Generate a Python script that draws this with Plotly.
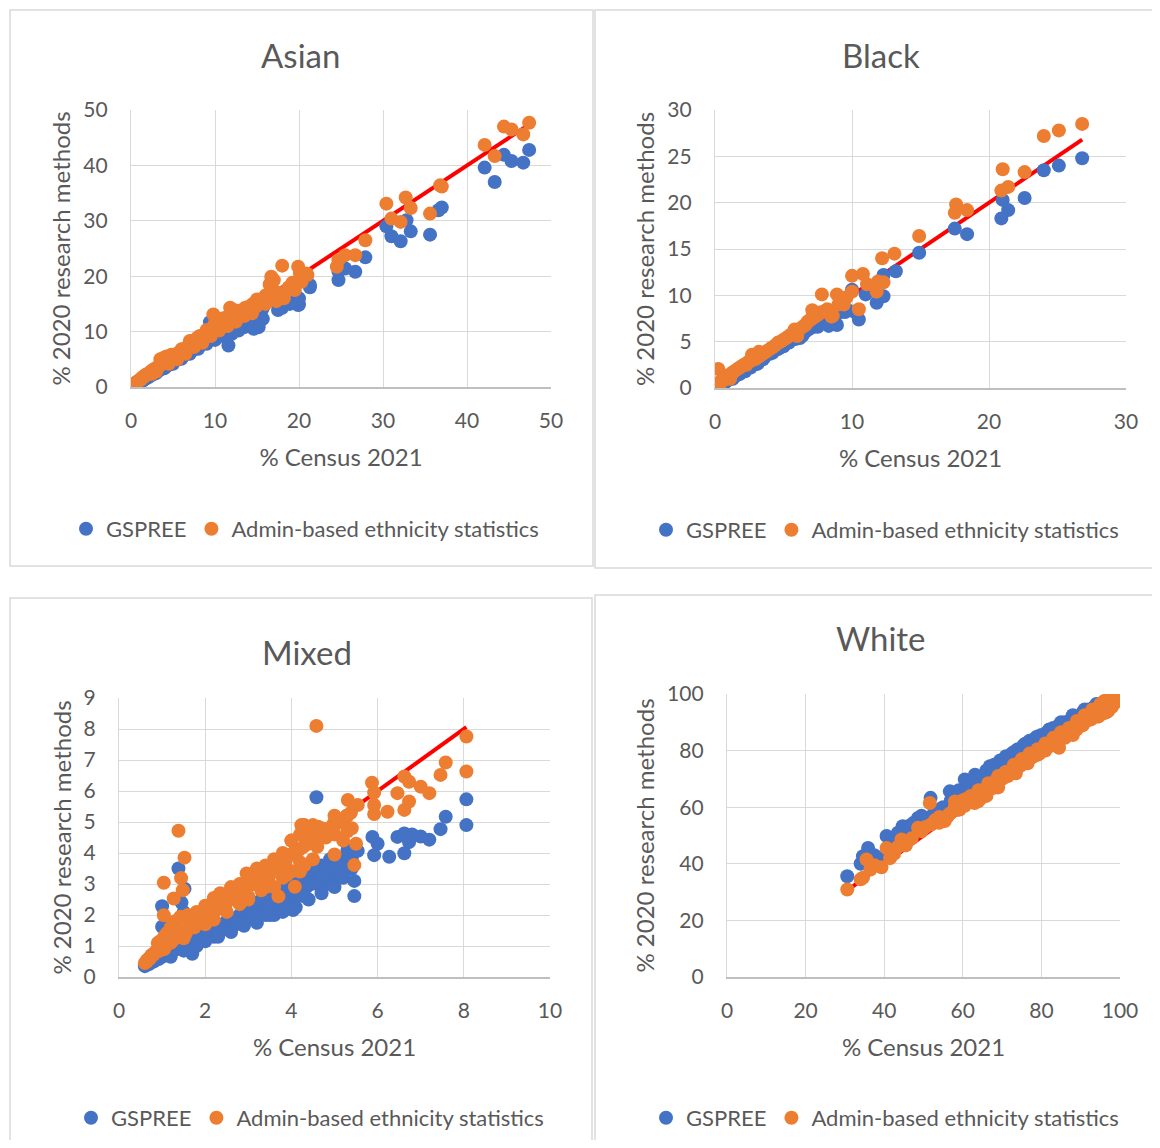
import plotly.graph_objects as go

# page body has an 8px margin, so the figure is sized to fit the window without scrollbars
OFF = 8
W, H = 1144, 1132
FONT = "Lato"
TXT = "#595959"
BLUE = "#4472C4"
ORANGE = "#ED7D31"
RED = "#FF0000"
GRID = "#D9D9D9"

# ---------------- Asian ----------------
asian_gspree_x = [0.4,0.5,0.6,0.7,0.8,0.9,1.0,1.1,1.2,1.4,1.5,1.7,1.9,2.0,2.2,2.4,2.6,2.8,3.0,3.2,3.5,3.7,4.0,4.3,4.6,4.9,5.2,5.5,5.9,6.2,6.6,7.0,7.4,7.8,8.3,8.7,9.1,9.6,10.1,10.6,11.2,11.8,12.5,13.1,13.8,14.5,15.2,15.8,
                  0.3,0.6,0.9,1.3,1.6,2.1,2.5,2.9,3.3,3.9,4.4,5.0,5.6,6.1,6.8,7.6,8.1,8.9,9.4,9.9,10.4,11.0,12.2,13.0,14.0,15.0,15.6,
                  3.0,4.0,5.0,6.0,7.0,8.0,9.0,10.0,11.0,12.0,12.8,13.5,14.2,15.0,15.7,
                  16.8,17.5,18.0,19.0,20.0,21.3,16.5,
                  47.4,44.4,45.3,46.7,42.1,43.3,37.0,36.6,35.6,30.4,31.0,32.1,33.3,32.8,27.9,26.7,24.7,24.7,25.5,21.3,19.9,17.5,19.1,16.4,15.2,14.6,11.6,9.4,17.8,18.5,20.0,16.9,18.9]
asian_gspree_y = [0.4,0.5,0.5,0.6,0.7,0.8,0.9,1.0,1.1,1.2,1.3,1.5,1.7,1.8,2.0,2.2,2.3,2.5,2.7,2.9,3.2,3.4,3.6,3.9,4.1,4.4,4.7,5.0,5.3,5.6,6.0,6.3,6.7,7.1,7.6,8.0,8.3,8.9,9.3,9.8,10.2,10.8,11.4,12.0,12.7,13.3,14.0,14.6,
                  0.3,0.6,0.8,1.1,1.4,1.8,2.2,2.6,3.0,3.4,3.9,4.4,5.0,5.5,6.1,6.9,7.4,8.1,8.6,9.0,9.4,9.9,11.0,11.6,12.4,12.9,14.0,
                  2.5,3.4,4.2,5.1,6.0,6.9,7.8,8.5,9.2,9.6,10.2,10.8,11.3,11.5,12.3,
                  16.5,15.0,14.3,15.5,14.9,18.0,15.8,
                  42.8,41.9,40.8,40.5,39.6,37.0,32.4,31.9,27.5,29.0,27.2,26.3,28.1,30.1,23.4,20.8,19.3,20.8,21.4,18.4,14.8,13.9,16.3,16.3,10.8,10.5,7.5,11.7,15.5,17.0,16.0,17.5,15.0]
asian_admin_x = [0.4,0.5,0.6,0.7,0.8,0.9,1.0,1.2,1.3,1.5,1.6,1.8,2.0,2.2,2.4,2.6,2.9,3.1,3.4,3.6,3.8,4.1,4.4,4.7,5.0,5.3,5.7,6.0,6.4,6.8,7.1,7.5,7.9,8.4,8.8,9.2,9.7,10.2,10.8,11.3,12.0,12.6,13.3,14.0,14.7,15.4,
                 0.3,0.7,1.1,1.4,1.9,2.3,2.7,3.2,3.5,4.0,4.5,5.1,5.5,6.2,6.9,7.2,7.7,8.2,9.0,9.5,10.0,10.5,11.0,11.6,12.3,13.0,13.8,14.5,15.0,15.8,16.0,
                 3.5,4.2,4.8,5.5,6.0,7.0,8.0,9.0,10.0,11.0,12.0,12.5,13.5,14.5,15.5,16.0,9.5,10.5,11.5,12.5,13.5,8.5,7.5,6.5,5.5,4.5,3.0,2.5,
                 16.5,17.0,17.5,18.2,18.8,19.5,20.3,21.0,17.0,
                 47.4,44.4,45.3,46.7,42.1,43.3,36.8,37.0,30.4,32.7,33.3,35.6,31.0,32.1,27.9,24.7,25.5,26.7,24.5,18.0,19.9,20.9,16.7,16.7,17.8,18.4,19.2,20.1,17.3,9.8,11.8,14.9,14.4]
asian_admin_y = [0.5,0.6,0.8,0.8,1.0,1.1,1.2,1.4,1.6,1.8,2.0,2.2,2.3,2.5,2.8,3.0,3.2,3.5,3.8,4.2,5.2,4.6,5.5,5.0,5.4,5.8,6.0,6.4,6.7,7.3,7.9,7.8,8.3,8.7,9.2,9.6,10.0,10.6,11.0,11.8,12.3,12.8,13.6,14.2,14.8,15.4,
                 0.4,0.9,1.3,1.8,2.3,2.7,3.2,3.6,4.4,4.8,5.3,5.8,6.0,6.8,7.6,8.2,8.6,9.2,9.9,10.5,11.2,11.8,12.0,12.8,13.0,13.6,14.4,15.0,15.8,16.0,16.5,
                 5.0,5.5,5.8,5.9,6.8,8.3,9.0,10.3,11.5,12.4,13.2,13.8,14.2,14.9,15.2,15.0,9.2,10.2,11.0,11.8,12.8,8.0,7.2,6.0,5.0,4.2,2.8,2.4,
                 18.5,19.3,17.0,16.0,18.0,17.5,19.0,20.2,16.8,
                 47.7,47.0,46.5,45.6,43.7,41.7,36.4,36.2,33.1,34.2,32.3,31.3,30.4,29.8,26.5,22.9,23.8,23.8,21.7,21.9,21.7,20.5,19.9,18.4,16.5,17.2,18.8,20.6,15.5,13.1,14.3,14.5,13.3]

# ---------------- Black ----------------
black_gspree_x = [0.1,0.2,0.3,0.4,0.5,0.6,0.8,1.0,1.2,1.4,1.6,1.9,2.1,2.4,2.7,3.0,3.3,3.6,4.0,4.4,4.8,5.2,5.6,6.0,6.3,6.6,7.0,7.3,7.6,8.0,8.3,
                  0.15,0.35,0.7,0.9,1.3,1.8,2.2,2.6,3.1,3.5,4.2,4.6,5.0,5.4,5.9,6.4,6.8,7.2,7.8,
                  6.2,7.5,8.0,9.2,9.6,10.2,
                  26.8,25.1,24.0,22.6,21.0,21.4,20.9,17.5,18.4,14.9,13.2,12.3,11.8,12.3,11.0,10.0,10.5,8.9,8.3,7.1,9.5,8.8]
black_gspree_y = [0.1,0.2,0.3,0.3,0.4,0.5,0.7,0.9,1.1,1.2,1.4,1.7,1.9,2.2,2.4,2.7,3.0,3.3,3.7,4.1,4.4,4.8,5.2,5.5,5.8,6.1,6.5,6.8,7.0,7.4,7.6,
                  0.1,0.3,0.6,0.8,1.0,1.5,1.8,2.2,2.6,3.1,3.8,4.2,4.5,4.9,5.3,5.7,6.3,6.6,7.1,
                  5.4,6.6,7.1,8.2,8.5,8.2,
                  24.8,24.0,23.5,20.5,20.3,19.2,18.3,17.2,16.6,14.6,12.6,12.2,9.2,9.9,10.1,10.6,7.4,6.8,6.7,7.6,8.2,7.0]
black_admin_x = [0.1,0.2,0.24,0.3,0.5,0.6,0.8,1.0,1.2,1.5,1.7,2.0,2.3,2.6,2.7,3.0,3.4,3.8,4.2,4.6,5.0,5.4,5.8,6.2,6.6,7.0,7.4,7.8,
                 0.15,0.4,0.7,0.9,1.1,1.3,1.8,2.2,2.5,2.9,3.2,3.6,4.0,4.4,4.8,5.2,5.6,6.0,6.4,6.8,7.2,7.6,
                 5.8,6.0,6.7,7.3,8.2,8.6,9.0,9.6,3.2,2.8,
                 26.8,25.1,24.0,22.6,21.0,21.4,20.9,17.6,17.5,18.4,14.9,13.1,12.2,11.9,12.3,11.8,10.0,10.8,11.1,10.0,10.5,7.8,8.9,7.1,8.5,9.4]
black_admin_y = [0.2,0.4,2.05,0.6,0.8,1.0,1.1,1.4,1.5,1.9,2.1,2.4,2.5,2.9,3.6,3.2,3.6,4.0,4.4,4.9,5.2,5.6,6.0,6.4,6.8,7.4,7.8,8.2,
                 0.1,0.5,0.9,1.2,1.0,1.7,2.2,2.6,2.9,3.1,3.4,3.8,4.2,4.6,5.0,5.4,5.8,6.2,6.6,7.2,7.6,8.0,
                 6.3,5.6,7.0,8.0,8.5,7.8,9.0,9.8,3.9,3.3,
                 28.5,27.8,27.2,23.3,23.6,21.7,21.3,19.8,18.9,19.2,16.4,14.5,14.0,11.5,11.4,10.4,12.1,12.3,11.2,10.4,8.5,10.1,10.1,8.4,7.7,9.0]

# ---------------- Mixed ----------------
mixed_gspree_x = [0.6,0.65,0.7,0.75,0.8,0.85,0.9,0.95,1.0,1.05,1.1,1.15,1.2,1.25,1.3,1.35,1.4,1.5,1.55,1.6,1.7,1.75,1.8,1.9,2.0,2.1,2.2,2.3,2.4,2.5,2.6,2.7,2.8,2.9,3.0,3.1,3.2,3.3,3.4,3.5,3.6,3.7,3.8,3.9,4.0,4.1,4.2,4.3,4.4,4.5,4.6,4.7,4.8,4.9,5.0,5.1,5.2,5.3,5.4,
                  0.62,0.7,0.78,0.85,0.92,1.0,1.08,1.15,1.22,1.3,1.38,1.45,1.55,1.65,1.72,1.85,1.95,2.05,2.15,2.25,2.35,2.45,2.55,2.65,2.75,2.85,2.95,3.05,3.15,3.25,3.35,3.45,3.55,3.65,3.75,3.85,3.95,4.05,4.15,4.25,4.35,4.45,4.55,4.65,4.75,4.85,4.95,5.05,5.15,5.25,
                  2.0,2.3,2.6,2.9,3.2,3.5,3.8,4.1,4.4,4.7,5.0,1.5,1.8,1.2,3.6,4.3,4.6,5.2,5.4,4.7,4.9,5.1,5.3,4.6,5.0,5.2,4.8,
                  1.0,1.0,1.38,1.52,1.45,1.5,1.2,4.58,5.46,5.46,5.54,5.88,5.92,6.0,6.27,6.46,6.62,6.62,6.73,6.8,7.0,7.2,7.46,7.58,8.06,8.06,4.04,3.8,3.4]
mixed_gspree_y = [0.35,0.4,0.45,0.5,0.5,0.6,0.6,0.7,0.7,0.75,0.8,0.85,0.9,0.9,1.0,0.95,1.05,1.1,1.15,1.2,0.75,1.3,1.35,1.4,1.5,1.5,1.3,1.7,1.6,1.8,1.9,1.7,2.0,2.1,2.2,2.0,2.3,2.5,2.2,2.6,2.4,2.8,2.6,2.9,3.1,2.6,2.9,3.2,3.0,3.4,3.3,3.6,3.0,3.5,3.2,3.7,3.4,4.1,3.8,
                  0.38,0.42,0.5,0.55,0.58,0.65,0.7,0.78,0.82,0.88,0.95,1.0,1.02,1.1,1.15,1.2,1.28,1.3,1.4,1.45,1.5,1.55,1.62,1.65,1.75,1.8,1.85,1.9,2.0,2.05,2.1,2.25,2.3,2.35,2.45,2.5,2.55,2.7,2.75,2.85,2.9,3.0,3.1,3.15,3.3,3.35,3.4,3.5,3.6,3.7,
                  1.15,1.3,1.45,1.65,1.75,2.0,2.15,2.25,2.5,2.7,2.9,0.85,1.0,0.65,2.0,2.6,3.0,3.3,3.5,3.3,3.8,3.5,3.9,3.6,3.7,3.2,3.5,
                  2.28,1.62,3.5,2.85,2.4,2.1,1.6,5.8,3.1,2.61,4.07,4.52,3.93,4.3,3.88,4.52,3.99,4.63,4.35,4.6,4.53,4.43,4.77,5.17,5.73,4.9,2.16,2.1,2.0]
mixed_admin_x = [0.6,0.65,0.7,0.75,0.8,0.85,0.9,0.95,1.0,1.05,1.1,1.15,1.2,1.25,1.3,1.35,1.4,1.5,1.55,1.6,1.7,1.75,1.8,1.9,2.0,2.05,2.1,2.2,2.3,2.35,2.4,2.5,2.6,2.7,2.8,2.9,3.0,3.1,3.2,3.3,3.4,3.5,3.6,3.7,3.8,3.9,4.0,4.1,4.2,4.3,4.4,4.5,4.6,4.7,4.8,4.9,5.0,5.1,5.2,5.3,5.4,
                 0.65,0.72,0.8,0.88,0.96,1.02,1.1,1.18,1.26,1.34,1.42,1.5,1.6,1.68,1.78,1.88,1.98,2.08,2.18,2.28,2.38,2.48,2.58,2.68,2.78,2.88,2.98,3.08,3.18,3.28,3.38,3.48,3.58,3.68,3.78,3.88,3.98,4.08,4.18,4.28,4.38,4.48,4.58,4.68,4.78,4.88,4.98,5.08,5.18,5.28,5.38,
                 1.2,1.3,1.6,0.9,1.05,2.2,2.6,3.0,3.5,1.5,2.0,2.5,3.0,3.5,4.0,4.5,2.2,2.8,3.3,3.8,4.3,
                 1.6,1.8,2.0,2.2,2.4,2.6,2.8,3.0,3.2,3.4,3.6,3.8,4.0,4.2,4.4,1.3,1.1,0.95,2.5,2.7,3.4,3.9,4.6,4.8,5.0,5.2,5.3,5.0,4.5,3.0,3.6,4.2,
                 4.58,8.06,8.06,7.58,7.46,6.62,6.73,7.0,7.2,5.87,5.92,6.46,5.92,6.73,6.62,6.23,5.92,5.31,5.54,5.46,5.5,4.23,4.62,4.08,2.96,1.38,1.52,1.44,1.04,1.48,1.27,1.04,1.42,5.0,3.7]
mixed_admin_y = [0.45,0.5,0.6,0.7,0.75,0.8,0.9,0.85,1.0,0.9,1.1,1.2,1.1,1.3,1.25,1.4,1.3,1.5,1.4,1.6,1.7,1.6,1.8,1.9,2.0,1.8,2.2,2.1,2.3,2.7,2.4,2.5,2.6,2.8,2.7,2.9,3.3,3.0,3.2,3.1,3.5,3.3,3.7,3.6,3.9,3.5,4.4,4.1,3.7,4.9,4.3,4.6,4.4,4.8,4.5,4.7,4.9,5.1,5.0,4.7,4.8,
                 0.55,0.6,0.72,0.85,0.95,0.98,1.05,1.15,1.2,1.3,1.35,1.45,1.55,1.6,1.75,1.82,1.9,2.05,2.12,2.2,2.35,2.4,2.55,2.62,2.75,2.85,2.95,3.0,3.1,3.25,3.3,3.45,3.5,3.62,3.75,3.8,3.95,4.05,4.1,4.2,4.35,4.4,4.55,4.6,4.75,4.8,4.95,5.0,5.05,5.2,5.3,
                 1.6,1.8,1.9,1.1,1.3,2.55,2.9,3.2,3.6,1.25,1.7,2.1,2.6,3.0,3.4,3.8,1.85,2.35,2.8,3.2,3.6,
                 2.0,2.1,2.3,2.5,2.6,2.8,3.0,3.3,3.5,3.6,3.8,4.0,4.4,4.6,4.7,1.7,1.4,1.15,2.4,2.5,2.9,3.3,4.2,4.6,4.6,4.4,5.2,5.2,4.9,2.5,2.9,3.4,
                 8.1,7.76,6.63,6.92,6.52,6.47,6.3,6.14,5.93,6.27,5.95,5.93,5.55,5.66,5.39,5.33,5.26,5.71,5.55,3.61,4.3,4.9,4.85,2.91,3.34,4.72,3.85,3.19,3.04,2.8,2.53,1.99,1.94,3.95,2.6]

# ---------------- White ----------------
white_gspree_x = [30.6,34.0,34.6,35.9,37.5,40.6,42.0,44.7,46.5,48.6,50.0,51.8,53.5,55.0,56.7,58.0,60.5,62.0,63.1,65.0,66.9,68.0,69.5,71.0,72.5,74.0,75.5,77.0,78.5,80.0,81.5,83.0,84.5,86.0,87.5,89.0,90.5,92.0,93.5,95.0,96.0,97.0,98.0,98.5,99.0,
                  36.5,39.0,41.5,43.5,45.5,47.5,49.5,52.5,54.5,57.0,59.0,61.5,64.0,66.0,67.5,70.5,73.0,76.0,79.0,82.0,85.0,88.0,91.0,94.0,96.5,97.5,98.8]
white_gspree_y = [35.6,40.0,42.7,45.6,43.0,49.8,49.0,53.3,53.5,56.2,56.0,63.3,58.5,60.0,65.6,64.5,69.8,68.0,71.5,69.5,74.5,75.0,76.5,78.0,79.0,80.5,82.0,83.5,84.5,85.5,86.5,88.0,89.0,90.0,91.0,92.0,93.5,94.5,95.5,96.5,97.0,97.8,98.5,99.0,99.5,
                  38.5,42.0,47.0,51.0,50.5,54.5,57.0,57.5,59.5,62.5,66.0,67.5,70.5,73.0,72.0,77.0,79.5,82.5,85.0,87.5,90.0,92.5,94.5,96.5,97.5,98.2,99.2]
white_admin_x = [30.6,34.0,34.6,35.5,36.5,39.3,40.6,42.5,44.4,45.5,48.6,50.5,51.6,53.0,55.4,57.0,58.0,59.2,60.5,62.0,63.9,65.0,66.0,67.7,68.5,70.0,71.5,73.0,74.5,76.0,77.5,79.0,80.5,82.0,83.0,84.3,85.5,87.0,88.5,90.0,91.5,93.0,94.0,95.0,96.0,97.0,97.5,98.0,98.5,99.0,96.5,92.5,
                 37.5,41.5,43.5,47.0,49.5,52.0,54.0,56.0,58.5,61.0,63.0,64.5,66.5,69.0,70.5,72.0,73.5,75.0,76.5,78.0,79.5,81.0,82.5,84.0,86.0,87.5,89.0,90.5,92.0,93.5,95.5,96.0,97.0,97.8,98.2,98.8,99.2,88.0,84.5,94.5,
                 96.0,97.5,98.5,99.2,95.0,93.0,91.0,89.0,87.0,85.0,83.0,81.0,79.0,77.0,75.0,73.0,71.0,69.0,66.5,64.0,62.0,60.0,58.0,56.5,54.0,97.0,98.0,95.5,93.0,90.5]
white_admin_y = [30.9,34.5,35.1,41.5,38.0,38.8,45.6,43.5,48.6,46.5,52.7,53.0,61.5,55.5,55.1,58.0,62.0,59.2,60.5,64.0,62.1,66.0,64.0,66.8,69.5,70.0,71.0,73.5,74.5,76.0,77.5,78.5,80.0,81.5,82.0,83.9,85.0,86.5,88.0,89.5,90.5,92.0,93.0,94.0,95.0,96.0,96.5,97.0,97.5,98.5,93.5,91.0,
                 39.5,42.0,46.0,49.0,51.5,54.0,54.5,56.5,59.0,63.0,61.5,63.0,66.0,67.0,70.5,72.0,72.0,75.0,75.5,78.0,79.0,80.0,82.5,83.0,84.5,86.5,87.5,89.0,91.0,92.5,93.5,94.5,95.0,96.0,97.5,97.0,98.5,85.5,81.0,92.0,
                 97.5,98.5,99.0,99.0,96.5,94.5,92.5,90.5,88.0,86.5,84.5,82.5,80.5,79.0,77.0,75.0,72.5,71.0,68.5,66.0,63.0,62.5,60.0,57.5,56.5,94.0,95.5,93.0,91.5,89.0]

panel_titles = ["Asian", "Black", "Mixed", "White"]
x_ticks = [[0,10,20,30,40,50],[0,10,20,30],[0,2,4,6,8,10],[0,20,40,60,80,100]]
y_ticks = [[0,10,20,30,40,50],[0,5,10,15,20,25,30],[0,1,2,3,4,5,6,7,8,9],[0,20,40,60,80,100]]
series = [
    (asian_gspree_x, asian_gspree_y, asian_admin_x, asian_admin_y),
    (black_gspree_x, black_gspree_y, black_admin_x, black_admin_y),
    (mixed_gspree_x, mixed_gspree_y, mixed_admin_x, mixed_admin_y),
    (white_gspree_x, white_gspree_y, white_admin_x, white_admin_y),
]

def fx(X):
    return (X - OFF) / W
def fy(Y):
    return 1 - (Y - OFF) / H

# plot-area geometry (screen pixels) for each panel: (left, top, right, bottom)
areas = [(131, 110, 551, 387), (715, 110, 1126, 388), (119, 698, 550, 977), (727, 694, 1120, 977)]
title_pos = [(301, 55), (881, 55), (307, 652), (881, 638)]
legend_pos = [(305, 529), (885, 530), (310, 1118), (885, 1118)]
boxes = [(10, 10, 593, 566), (595, 10, 1170, 568), (10, 598, 592, 1160), (595, 595, 1170, 1160)]

fig = go.Figure()
layout = dict(
    width=W, height=H,
    margin=dict(l=0, r=0, t=0, b=0, autoexpand=False),
    paper_bgcolor="white", plot_bgcolor="white",
    font=dict(family=FONT, color=TXT, size=20),
    showlegend=True,
    annotations=[], shapes=[],
)

for i in range(4):
    n = "" if i == 0 else str(i + 1)
    xa, ya = "x" + n, "y" + n
    lg = "legend" + n
    gx, gy, ax_, ay_ = series[i]
    allx = list(gx) + list(ax_)
    lo, hi = min(allx), max(allx)
    fig.add_trace(go.Scatter(x=[lo, hi], y=[lo, hi], mode="lines",
                             line=dict(color=RED, width=4), showlegend=False,
                             xaxis=xa, yaxis=ya, hoverinfo="skip"))
    fig.add_trace(go.Scatter(x=gx, y=gy, mode="markers", name="GSPREE",
                             marker=dict(color=BLUE, size=14), xaxis=xa, yaxis=ya, legend=lg))
    fig.add_trace(go.Scatter(x=ax_, y=ay_, mode="markers", name="Admin-based ethnicity statistics",
                             marker=dict(color=ORANGE, size=14), xaxis=xa, yaxis=ya, legend=lg))
    xt, yt = x_ticks[i], y_ticks[i]
    l, t, r, b = areas[i]
    layout["xaxis" + n] = dict(
        domain=[fx(l), fx(r)], anchor=ya, range=[xt[0], xt[-1]], tickvals=xt,
        showgrid=True, gridcolor=GRID, gridwidth=1.3, zeroline=False,
        showline=True, linecolor="#BFBFBF", linewidth=1.5, automargin=False,
        ticks="", ticklabelstandoff=14,
        tickfont=dict(size=21, color=TXT, family=FONT),
        title=dict(text="% Census 2021", font=dict(size=24, color=TXT, family=FONT), standoff=18),
    )
    layout["yaxis" + n] = dict(
        domain=[fy(b), fy(t)], anchor=xa, range=[yt[0], yt[-1]], tickvals=yt,
        showgrid=True, gridcolor=GRID, gridwidth=1.3, zeroline=False,
        showline=True, linecolor=GRID, linewidth=1.3, automargin=False,
        ticks="", ticklabelstandoff=18,
        tickfont=dict(size=21, color=TXT, family=FONT),
        title=dict(text="% 2020 research methods", font=dict(size=24, color=TXT, family=FONT), standoff=5),
    )
    tx, ty = title_pos[i]
    layout["annotations"].append(dict(text=panel_titles[i], x=fx(tx), y=fy(ty), xref="paper", yref="paper",
                                      showarrow=False, xanchor="center", yanchor="middle",
                                      font=dict(size=33, color=TXT, family=FONT)))
    lx, ly = legend_pos[i]
    layout[lg] = dict(orientation="h", x=fx(lx), y=fy(ly), xanchor="center", yanchor="middle",
                      font=dict(size=22, color=TXT, family=FONT), bgcolor="rgba(0,0,0,0)",
                      itemsizing="trace", tracegroupgap=0)
    x0, y0, x1, y1 = boxes[i]
    layout["shapes"].append(dict(type="rect", xref="paper", yref="paper",
                                 x0=fx(x0), x1=fx(x1), y0=fy(y1), y1=fy(y0),
                                 line=dict(color=GRID, width=1.5), fillcolor="rgba(0,0,0,0)", layer="below"))

fig.update_layout(**layout)
fig.write_html("out.html")
